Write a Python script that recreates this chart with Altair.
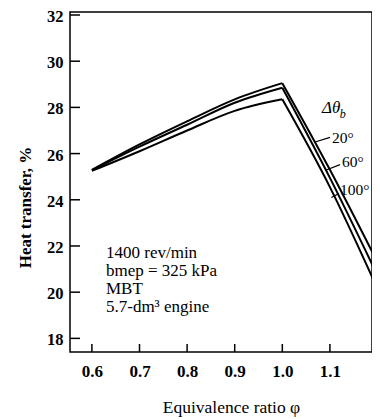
import altair as alt
import pandas as pd

# ---- data ----
phi_rise = [0.6, 0.7, 0.8, 0.9, 1.0]
phi_fall = [1.0, 1.1, 1.19]
curves = ["20°", "60°", "100°"]
ht_rise = {
    "20°": [25.30, 26.40, 27.40, 28.35, 29.05],
    "60°": [25.28, 26.30, 27.25, 28.20, 28.85],
    "100°": [25.25, 26.10, 27.00, 27.85, 28.35],
}
ht_fall = {
    "20°": [29.05, 25.30, 21.70],
    "60°": [28.85, 24.95, 21.15],
    "100°": [28.35, 24.55, 20.60],
}
x_ticks = [0.6, 0.7, 0.8, 0.9, 1.0, 1.1, 1.2]
y_ticks = [18, 20, 22, 24, 26, 28, 30, 32]

note_lines = ["1400 rev/min", "bmep = 325 kPa", "MBT", "5.7-dm³ engine"]
note_x = [0.6296, 0.6296, 0.6296, 0.6296]
note_y = [21.70, 20.92, 20.14, 19.36]

label_text = ["20°", "60°", "100°"]
label_x = [1.1044, 1.1254, 1.1212]
label_y = [26.68, 25.64, 24.42]

lead_x = [1.0687, 1.0897, 1.1030]
lead_y = [26.50, 25.27, 24.10]
lead_x2 = [1.1002, 1.1212, 1.1190]
lead_y2 = [26.70, 25.52, 24.27]

# ---- tables ----
rows = []
for c in curves:
    for p, v in zip(phi_rise, ht_rise[c]):
        rows.append({"phi": p, "ht": v, "curve": c, "part": "rise"})
    for p, v in zip(phi_fall, ht_fall[c]):
        rows.append({"phi": p, "ht": v, "curve": c, "part": "fall"})
df = pd.DataFrame(rows)

FONT = "Liberation Serif"
xs = alt.Scale(domain=[0.554, 1.1884], nice=False, zero=False)
ys = alt.Scale(domain=[17.41, 32.13], nice=False, zero=False)

xaxis = alt.Axis(
    values=x_ticks, format=".1f", tickSize=0, domain=False, grid=False,
    labelFont=FONT, labelFontSize=17, labelFontWeight="bold", labelPadding=11,
    labelColor="black", labelOverlap=False,
    title="Equivalence ratio φ", titleFont=FONT, titleFontSize=17.5, titleFontWeight="normal",
    titleColor="black", titleX=161, titleY=60, titleBaseline="alphabetic")
yaxis = alt.Axis(
    values=y_ticks, format="d", tickSize=0, domain=False, grid=False,
    labelFont=FONT, labelFontSize=16.5, labelFontWeight="bold", labelPadding=7,
    labelColor="black", labelOverlap=False, labelOffset=1.5,
    title="Heat transfer, %", titleFont=FONT, titleFontSize=17, titleFontWeight="bold",
    titleColor="black", titleX=-40, titleY=195, titleAngle=-90, titleBaseline="alphabetic")


def X(f):
    return alt.X(f, scale=xs, axis=xaxis, title="Equivalence ratio φ")


def Y(f):
    return alt.Y(f, scale=ys, axis=yaxis, title="Heat transfer, %")


lines = alt.Chart(df).mark_line(color="black", strokeWidth=2, interpolate="monotone", clip=True).encode(
    x=X("phi:Q"), y=Y("ht:Q"), detail=["curve:N", "part:N"])

ytick = alt.Chart(pd.DataFrame({"v": y_ticks})).mark_rule(color="black", strokeWidth=1.5).encode(
    y=Y("v:Q"), x=alt.value(0), x2=alt.value(10))
xtick = alt.Chart(pd.DataFrame({"v": x_ticks[:-1]})).mark_rule(color="black", strokeWidth=1.5).encode(
    x=X("v:Q"), y=alt.value(340), y2=alt.value(332))

notes = alt.Chart(pd.DataFrame({"x": note_x, "y": note_y, "t": note_lines})).mark_text(
    align="left", baseline="middle", font=FONT, fontSize=17, color="black").encode(
    x=X("x:Q"), y=Y("y:Q"), text="t:N")

labels = alt.Chart(pd.DataFrame({"x": label_x, "y": label_y, "t": label_text})).mark_text(
    align="left", baseline="middle", font=FONT, fontSize=15.5, color="black").encode(
    x=X("x:Q"), y=Y("y:Q"), text="t:N")

leaders = alt.Chart(pd.DataFrame({"x": lead_x, "y": lead_y, "x2": lead_x2, "y2": lead_y2})).mark_rule(
    color="black", strokeWidth=1.2).encode(
    x=X("x:Q"), y=Y("y:Q"), x2="x2:Q", y2="y2:Q")

dtheta = alt.Chart(pd.DataFrame({"x": [1.0834], "y": [27.97], "t": ["Δθ"]})).mark_text(
    align="left", baseline="middle", font=FONT, fontSize=17, fontStyle="italic", color="black").encode(
    x=X("x:Q"), y=Y("y:Q"), text="t:N")
dsub = alt.Chart(pd.DataFrame({"x": [1.1205], "y": [27.70], "t": ["b"]})).mark_text(
    align="left", baseline="middle", font=FONT, fontSize=12, fontStyle="italic", color="black").encode(
    x=X("x:Q"), y=Y("y:Q"), text="t:N")

chart = alt.layer(lines, ytick, xtick, notes, labels, leaders, dtheta, dsub).properties(
    width=302, height=340,
    autosize=alt.AutoSizeParams(type="none"),
    padding={"left": 62, "top": 4, "right": 0, "bottom": 67},
).configure(background="white").configure_view(stroke="black", strokeWidth=1.5)

chart.save("out.html", embed_options={"renderer": "svg", "actions": False})
